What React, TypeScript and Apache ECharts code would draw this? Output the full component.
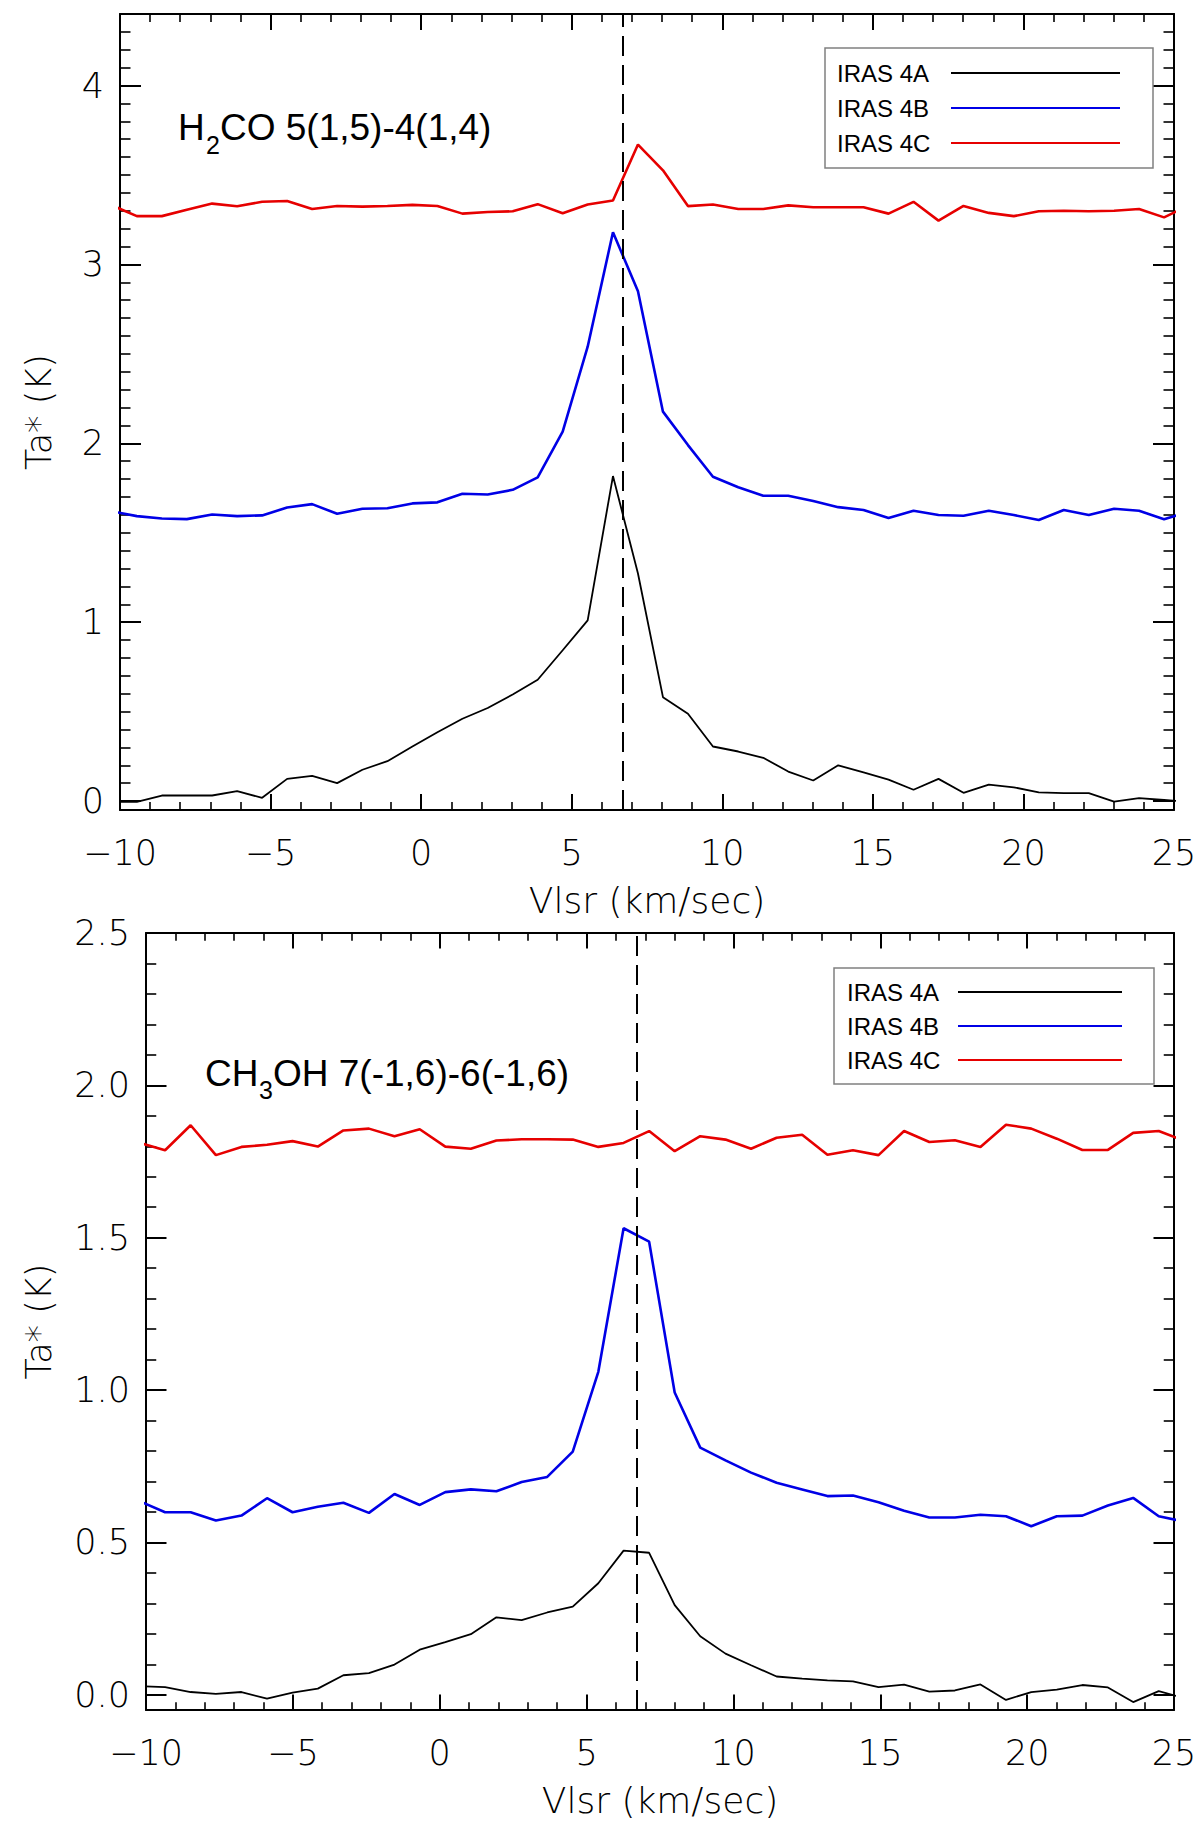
import { useEffect, useRef } from 'react';
import * as echarts from 'echarts';

// channel velocities (km/s) of the H2CO spectra
const velH2co = [
  -10.27, -9.44, -8.61, -7.78, -6.94, -6.11, -5.28, -4.45, -3.62, -2.79, -1.95,
  -1.12, -0.29, 0.54, 1.37, 2.21, 3.04, 3.87, 4.7, 5.53, 6.37, 7.2, 8.03, 8.86,
  9.69, 10.53, 11.36, 12.19, 13.02, 13.85, 14.69, 15.52, 16.35, 17.18, 18.01,
  18.85, 19.68, 20.51, 21.34, 22.17, 23.01, 23.84, 24.67, 25.5,
];
const h2coA = [
  -0.005, -0.005, 0.031, 0.031, 0.031, 0.055, 0.018, 0.124, 0.141, 0.1, 0.175,
  0.223, 0.305, 0.385, 0.46, 0.52, 0.596, 0.678, 0.843, 1.01, 1.817, 1.272,
  0.581, 0.488, 0.305, 0.277, 0.242, 0.165, 0.115, 0.2, 0.16, 0.12, 0.063,
  0.124, 0.046, 0.092, 0.077, 0.049, 0.044, 0.044, -0.003, 0.016, 0.006, -0.004,
];
const h2coB = [
  1.62, 1.593, 1.58, 1.576, 1.602, 1.593, 1.597, 1.641, 1.66, 1.606, 1.634,
  1.637, 1.664, 1.67, 1.718, 1.714, 1.74, 1.81, 2.065, 2.54, 3.18, 2.85, 2.177,
  1.99, 1.813, 1.754, 1.707, 1.707, 1.677, 1.643, 1.627, 1.582, 1.623, 1.599,
  1.595, 1.623, 1.599, 1.571, 1.627, 1.599, 1.634, 1.623, 1.576, 1.618,
];
const h2coC = [
  3.33, 3.27, 3.27, 3.306, 3.34, 3.325, 3.35, 3.355, 3.31, 3.327, 3.323, 3.327,
  3.333, 3.327, 3.284, 3.293, 3.297, 3.337, 3.286, 3.335, 3.357, 3.67, 3.526,
  3.326, 3.335, 3.31, 3.31, 3.33, 3.32, 3.32, 3.32, 3.284, 3.35, 3.245, 3.327,
  3.288, 3.27, 3.297, 3.3, 3.297, 3.3, 3.31, 3.263, 3.33,
];

// channel velocities (km/s) of the CH3OH spectra
const velCh3oh = [
  -10.22, -9.35, -8.48, -7.62, -6.75, -5.88, -5.01, -4.15, -3.28, -2.41, -1.54,
  -0.68, 0.19, 1.06, 1.93, 2.79, 3.66, 4.53, 5.4, 6.26, 7.13, 8.0, 8.87, 9.73,
  10.6, 11.47, 12.34, 13.2, 14.07, 14.94, 15.81, 16.67, 17.54, 18.41, 19.28,
  20.14, 21.01, 21.88, 22.75, 23.61, 24.48, 25.35,
];
const ch3ohA = [
  0.028, 0.025, 0.009, 0.003, 0.009, -0.013, 0.007, 0.02, 0.064, 0.071, 0.099,
  0.148, 0.173, 0.199, 0.254, 0.245, 0.27, 0.289, 0.366, 0.473, 0.466, 0.294,
  0.192, 0.135, 0.097, 0.06, 0.053, 0.047, 0.044, 0.025, 0.033, 0.01, 0.014,
  0.034, -0.017, 0.009, 0.017, 0.032, 0.024, -0.024, 0.012, -0.011,
];
const ch3ohB = [
  0.635, 0.599, 0.599, 0.572, 0.588, 0.645, 0.599, 0.617, 0.63, 0.597, 0.659,
  0.623, 0.665, 0.674, 0.668, 0.698, 0.715, 0.798, 1.06, 1.531, 1.487, 0.992,
  0.811, 0.769, 0.729, 0.696, 0.674, 0.652, 0.654, 0.632, 0.604, 0.582, 0.582,
  0.591, 0.586, 0.553, 0.586, 0.588, 0.621, 0.646, 0.586, 0.568,
];
const ch3ohC = [
  1.811, 1.787, 1.869, 1.771, 1.798, 1.805, 1.817, 1.799, 1.852, 1.858, 1.833,
  1.856, 1.799, 1.792, 1.819, 1.823, 1.823, 1.822, 1.798, 1.811, 1.85, 1.784,
  1.833, 1.822, 1.792, 1.828, 1.838, 1.772, 1.787, 1.771, 1.85, 1.814, 1.82,
  1.798, 1.871, 1.858, 1.825, 1.788, 1.788, 1.844, 1.85, 1.818,
];

const sourceNames = ['IRAS 4A', 'IRAS 4B', 'IRAS 4C'];
const sourceColors = ['#000000', '#0000e6', '#e60000'];
const sourceWidths = [1.8, 2.6, 2.6];
const systemicVelocity = 6.7;

const AXIS_FONT = 'DejaVu Sans';
const TITLE_FONT = 'Liberation Sans';

const signed = (v: number) => (v < 0 ? '\u2212' + Math.abs(v) : String(v));

const xAxisFor = (gridIndex: number, position: string, labels: boolean, tickLen: number) => ({
  type: 'value',
  gridIndex,
  position,
  min: -10,
  max: 25,
  interval: 5,
  name: labels ? 'Vlsr (km/sec)' : '',
  nameLocation: 'middle',
  nameGap: 72,
  nameTextStyle: { fontFamily: AXIS_FONT, fontWeight: 200, fontSize: 36, color: '#000' },
  axisLine: { show: true, onZero: false, lineStyle: { color: '#000', width: 2 } },
  axisTick: { show: true, inside: true, length: tickLen, lineStyle: { color: '#000', width: 2 } },
  minorTick: { show: true, splitNumber: 5, length: tickLen / 2, lineStyle: { color: '#000', width: 1.6 } },
  axisLabel: {
    show: labels,
    margin: 25,
    fontFamily: AXIS_FONT,
    fontWeight: 200,
    fontSize: 35,
    color: '#000',
    formatter: signed,
  },
  splitLine: { show: false },
});

const yAxisFor = (
  gridIndex: number,
  position: string,
  labels: boolean,
  max: number,
  minorSplit: number,
  tickLen: number,
  nameGap: number,
  formatter: (v: number) => string
) => ({
  type: 'value',
  gridIndex,
  position,
  min: -0.05,
  max,
  splitNumber: 5,
  name: labels ? 'Ta* (K)' : '',
  nameLocation: 'middle',
  nameGap,
  nameTextStyle: { fontFamily: AXIS_FONT, fontWeight: 200, fontSize: 35, color: '#000' },
  axisLine: { show: true, onZero: false, lineStyle: { color: '#000', width: 2 } },
  axisTick: { show: true, inside: true, length: tickLen, lineStyle: { color: '#000', width: 2 } },
  minorTick: { show: true, splitNumber: minorSplit, length: tickLen / 2, lineStyle: { color: '#000', width: 1.6 } },
  axisLabel: {
    show: labels,
    margin: 16,
    fontFamily: AXIS_FONT,
    fontWeight: 200,
    fontSize: 35,
    color: '#000',
    formatter,
  },
  splitLine: { show: false },
});

const topFormatter = (v: number) =>
  Math.abs(v - Math.round(v)) < 1e-6 ? String(Math.round(v)) : '';
const bottomFormatter = (v: number) =>
  Math.abs(v * 2 - Math.round(v * 2)) < 1e-6 ? v.toFixed(1) : '';

const legendFor = (left: number, top: number, iconWidth: number, textBox: number, gap: number, padding: number[]) => ({
  data: sourceNames,
  orient: 'vertical',
  align: 'right',
  left,
  top,
  itemWidth: iconWidth,
  itemHeight: 4,
  itemGap: gap,
  padding,
  borderColor: '#808080',
  borderWidth: 1.5,
  selectedMode: false,
  // hide the marker that line series put in the middle of their legend line
  itemStyle: { opacity: 0 },
  formatter: '{n|{name}}',
  textStyle: {
    color: '#000',
    fontFamily: TITLE_FONT,
    fontSize: 24,
    lineHeight: 24,
    rich: { n: { width: textBox, align: 'left', fontFamily: TITLE_FONT, fontSize: 24, color: '#000' } },
  },
});

const App = () => {
  const chartRef = useRef<HTMLDivElement>(null);

  useEffect(() => {
    if (!chartRef.current) return;
    document.body.style.margin = '0';

    const myChart = echarts.init(chartRef.current, null, { renderer: 'svg' });

    const panels = [
      { vel: velH2co, values: [h2coA, h2coB, h2coC], xIndex: 0, yIndex: 0 },
      { vel: velCh3oh, values: [ch3ohA, ch3ohB, ch3ohC], xIndex: 2, yIndex: 2 },
    ];

    const series: any[] = [];
    panels.forEach((panel) => {
      // draw red first so black ends up on top
      [2, 1, 0].forEach((s) => {
        series.push({
          type: 'line',
          name: sourceNames[s],
          xAxisIndex: panel.xIndex,
          yAxisIndex: panel.yIndex,
          data: panel.vel.map((v, i) => [v, panel.values[s][i]]),
          symbol: 'none',
          showSymbol: false,
          clip: true,
          lineStyle: { color: sourceColors[s], width: sourceWidths[s] },
          itemStyle: { color: sourceColors[s] },
          z: 3 + (2 - s),
          markLine:
            s === 0
              ? {
                  silent: true,
                  symbol: ['none', 'none'],
                  label: { show: false },
                  lineStyle: { color: '#000', width: 2, type: [20, 9] },
                  data: [{ xAxis: systemicVelocity }],
                }
              : undefined,
        });
      });
    });

    const titleStyle = (text: string, size: number) => ({
      text,
      fill: '#000',
      fontFamily: TITLE_FONT,
      fontSize: size,
      align: 'left',
      verticalAlign: 'middle',
    });

    const option = {
      animation: false,
      backgroundColor: '#fff',
      grid: [
        { left: 120, right: 26, top: 14, height: 796 },
        { left: 146, right: 26, top: 933, height: 777 },
      ],
      xAxis: [
        xAxisFor(0, 'bottom', true, 16),
        xAxisFor(0, 'top', false, 16),
        xAxisFor(1, 'bottom', true, 15.5),
        xAxisFor(1, 'top', false, 15.5),
      ],
      yAxis: [
        yAxisFor(0, 'left', true, 4.4, 10, 21, 64, topFormatter),
        yAxisFor(0, 'right', false, 4.4, 10, 21, 64, topFormatter),
        yAxisFor(1, 'left', true, 2.5, 5, 20.5, 90, bottomFormatter),
        yAxisFor(1, 'right', false, 2.5, 5, 20.5, 90, bottomFormatter),
      ],
      legend: [
        legendFor(825, 48, 169, 109, 11, [13, 32, 13, 12]),
        legendFor(834, 968, 164, 106, 10, [12, 31, 12, 13]),
      ],
      graphic: [
        { type: 'text', x: 178, y: 127, style: titleStyle('H', 37) },
        { type: 'text', x: 206, y: 145, style: titleStyle('2', 25) },
        { type: 'text', x: 220, y: 127, style: titleStyle('CO 5(1,5)-4(1,4)', 37) },
        { type: 'text', x: 205, y: 1073, style: titleStyle('CH', 37) },
        { type: 'text', x: 259, y: 1090, style: titleStyle('3', 25) },
        { type: 'text', x: 273, y: 1073, style: titleStyle('OH 7(-1,6)-6(-1,6)', 37) },
      ],
      series,
    };

    myChart.setOption(option);

    return () => {
      myChart.dispose();
    };
  }, []);

  return <div ref={chartRef} style={{ width: '1200px', height: '1830px' }} />;
};

export default App;
